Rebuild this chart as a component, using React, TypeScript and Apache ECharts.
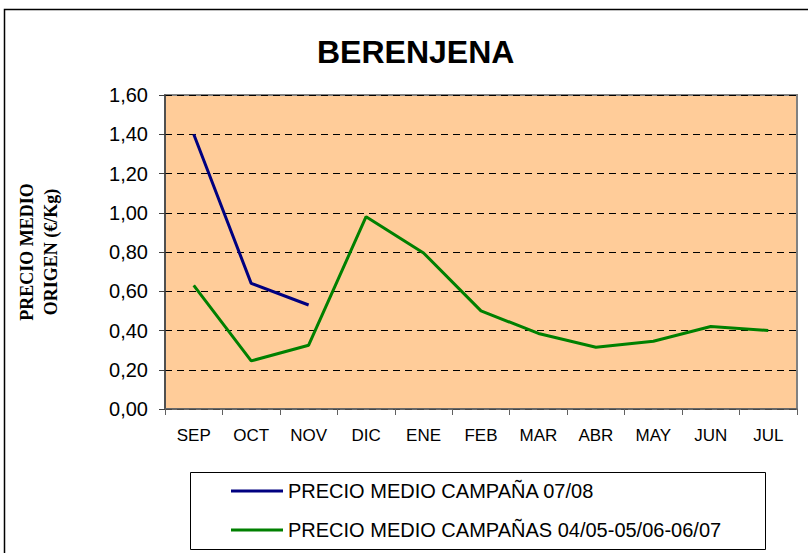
import React, { useEffect, useRef } from "react";
import * as echarts from "echarts";

const months = ["SEP", "OCT", "NOV", "DIC", "ENE", "FEB", "MAR", "ABR", "MAY", "JUN", "JUL"];
const campana0708 = [1.40, 0.64, 0.53, null, null, null, null, null, null, null, null];
const campanas3 = [0.63, 0.245, 0.325, 0.98, 0.795, 0.50, 0.385, 0.315, 0.345, 0.42, 0.40];
const seriesNames = ["PRECIO MEDIO CAMPAÑA 07/08", "PRECIO MEDIO CAMPAÑAS 04/05-05/06-06/07"];

export default function App() {
  const ref = useRef<HTMLDivElement>(null);
  useEffect(() => {
    if (!ref.current) return;
    const chart = echarts.init(ref.current, null, { renderer: "svg" });
    const sans = "'Liberation Sans', Arial, sans-serif";
    chart.setOption({
      animation: false,
      backgroundColor: "#ffffff",
      title: {
        text: "BERENJENA",
        left: 312,
        top: 31,
        textStyle: { fontFamily: sans, fontSize: 32, fontWeight: "bold", color: "#000" },
      },
      graphic: [
        {
          type: "rect",
          shape: { x: 4.5, y: 9.5, width: 900, height: 900 },
          style: { fill: "none", stroke: "#000", lineWidth: 1.5 },
          silent: true,
        },
        {
          type: "rect",
          shape: { x: 190.5, y: 472.5, width: 575, height: 77 },
          style: { fill: "#fff", stroke: "#000", lineWidth: 1 },
          silent: true,
          z: 1,
        },
      ],
      legend: {
        orient: "vertical",
        left: 226,
        top: 476,
        itemGap: 19,
        itemWidth: 52,
        itemHeight: 3,
        icon: "rect",
        data: seriesNames,
        textStyle: { fontFamily: sans, fontSize: 20, color: "#000" },
        z: 5,
      },
      grid: {
        left: 165,
        right: 11,
        top: 95,
        bottom: 144,
        show: true,
        backgroundColor: "#FFCC99",
        borderColor: "#808080",
        borderWidth: 2,
      },
      xAxis: {
        type: "category",
        data: months,
        boundaryGap: true,
        axisLine: { lineStyle: { color: "#606060", width: 1.5 } },
        axisTick: { show: true, length: 6, lineStyle: { color: "#606060" } },
        axisLabel: { fontFamily: sans, fontSize: 17, color: "#000", margin: 18 },
      },
      yAxis: {
        type: "value",
        min: 0,
        max: 1.6,
        interval: 0.2,
        name: "PRECIO MEDIO\nORIGEN (€/Kg)",
        nameLocation: "middle",
        nameGap: 102,
        nameRotate: 90,
        nameTextStyle: {
          fontFamily: "'Liberation Serif', 'Times New Roman', serif",
          fontWeight: "bold",
          fontSize: 18,
          lineHeight: 24,
          color: "#000",
        },
        axisLine: { show: true, lineStyle: { color: "#404040", width: 1.5 } },
        axisTick: { show: true, length: 6, lineStyle: { color: "#404040" } },
        axisLabel: {
          fontFamily: sans,
          fontSize: 20,
          color: "#000",
          margin: 17,
          formatter: (v: number) => v.toFixed(2).replace(".", ","),
        },
        splitLine: { show: true, lineStyle: { color: "#000", type: [7, 5], width: 1 } },
      },
      series: [
        {
          name: seriesNames[0],
          type: "line",
          data: campana0708,
          symbol: "none",
          connectNulls: false,
          lineStyle: { color: "#000080", width: 3 },
          itemStyle: { color: "#000080" },
        },
        {
          name: seriesNames[1],
          type: "line",
          data: campanas3,
          symbol: "none",
          lineStyle: { color: "#008000", width: 3 },
          itemStyle: { color: "#008000" },
        },
      ],
    });
    return () => chart.dispose();
  }, []);
  return <div ref={ref} style={{ position: "absolute", left: 0, top: 0, width: 808, height: 553 }} />;
}
